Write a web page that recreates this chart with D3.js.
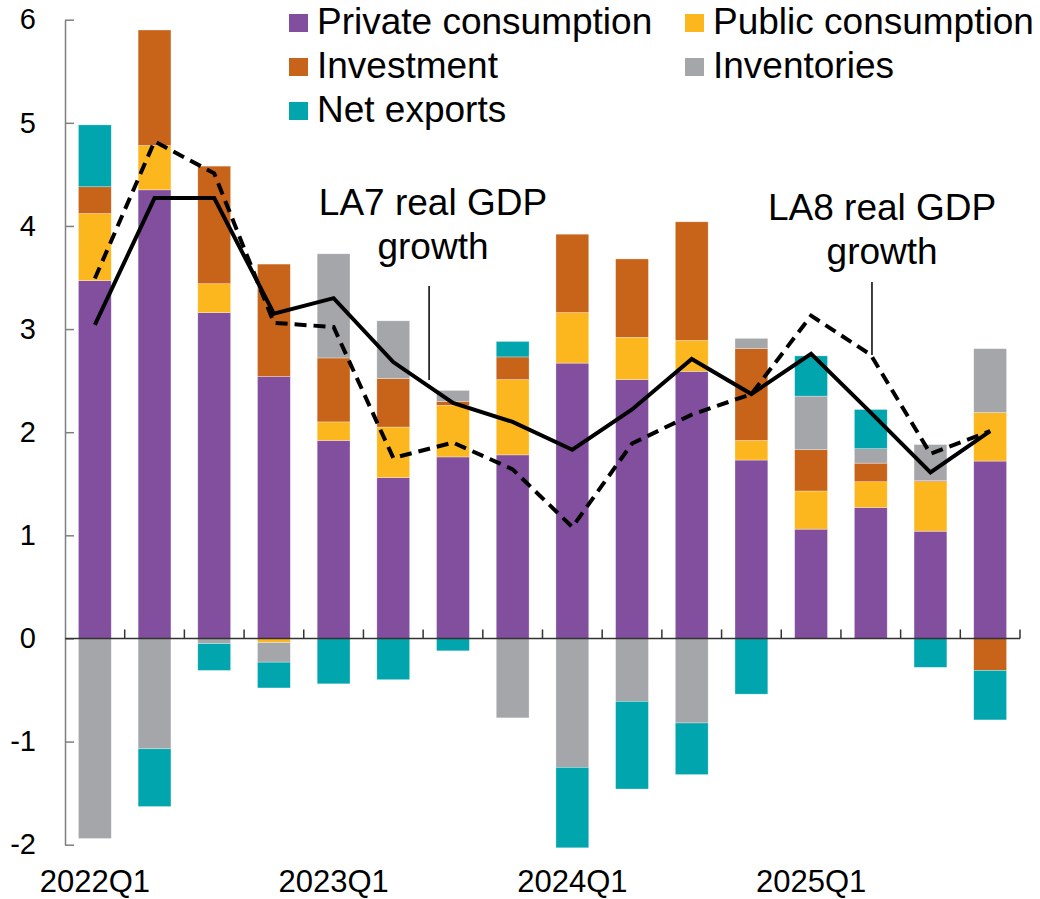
<!DOCTYPE html>
<html>
<head>
<meta charset="utf-8">
<script src="https://cdn.jsdelivr.net/npm/d3@7"></script>
<style>
  body { margin: 0; background: #fff; }
  svg { display: block; font-family: 'Liberation Sans', Arial, sans-serif; }
</style>
</head>
<body>
<div id="chart"></div>
<script>
const quarters = ['2022Q1','2022Q2','2022Q3','2022Q4','2023Q1','2023Q2','2023Q3','2023Q4',
                  '2024Q1','2024Q2','2024Q3','2024Q4','2025Q1','2025Q2','2025Q3','2025Q4']

const privateCons = [3.47, 4.35, 3.16, 2.54, 1.92, 1.56, 1.76, 1.78, 2.67, 2.51, 2.59, 1.73, 1.06, 1.27, 1.04, 1.72]
const publicCons  = [0.65, 0.43, 0.28, -0.04, 0.18, 0.49, 0.50, 0.73, 0.49, 0.41, 0.30, 0.19, 0.37, 0.25, 0.48, 0.47]
const investment  = [0.26, 1.12, 1.14, 1.09, 0.62, 0.47, 0.04, 0.22, 0.76, 0.76, 1.15, 0.89, 0.40, 0.18, 0.01, -0.31]
const inventories = [-1.94, -1.07, -0.05, -0.19, 1.01, 0.56, 0.105, -0.77, -1.25, -0.61, -0.82, 0.10, 0.52, 0.14, 0.35, 0.62]
const netExports  = [0.60, -0.56, -0.26, -0.25, -0.44, -0.40, -0.12, 0.15, -0.78, -0.85, -0.50, -0.54, 0.39, 0.38, -0.28, -0.48]

const la7 = [3.04, 4.27, 4.27, 3.15, 3.30, 2.68, 2.285, 2.10, 1.83, 2.22, 2.71, 2.37, 2.76, 2.19, 1.61, 2.01]
const la8 = [3.49, 4.82, 4.51, 3.06, 3.02, 1.75, 1.90, 1.64, 1.08, 1.89, 2.17, 2.37, 3.13, 2.75, 1.79, 2.01]

const seriesNames = ['Private consumption', 'Public consumption', 'Investment', 'Inventories', 'Net exports']
const seriesColors = ['#824f9e', '#fdb71e', '#c8631a', '#a5a6aa', '#00a5ad']
const xLabels = ['2022Q1', '2023Q1', '2024Q1', '2025Q1']
const yTicks = [-2, -1, 0, 1, 2, 3, 4, 5, 6]

const width = 1040,
      height = 899

const svg = d3.select('#chart')
  .append('svg')
  .attr('width', width)
  .attr('height', height)

const x = d3.scaleBand()
  .domain(quarters)
  .range([65, 1020])
  .paddingInner(0.45)
  .paddingOuter(0.225)

const y = d3.scaleLinear()
  .domain([-2, 6])
  .range([844.7, 19.7])

const cx = function(i) { return x(quarters[i]) + x.bandwidth() / 2 }

// table for the stack
const table = quarters.map(function(q, i) {
  return { q: q, s0: privateCons[i], s1: publicCons[i], s2: investment[i], s3: inventories[i], s4: netExports[i] }
})
const keys = ['s0', 's1', 's2', 's3', 's4']
const stacked = d3.stack().keys(keys).offset(d3.stackOffsetDiverging)(table)

svg.append('g')
  .selectAll('g')
  .data(stacked)
  .enter().append('g')
  .attr('fill', function(d, i) { return seriesColors[i] })
  .selectAll('rect')
  .data(function(d) { return d })
  .enter().append('rect')
  .attr('x', function(d) { return x(d.data.q) })
  .attr('width', x.bandwidth())
  .attr('y', function(d) { return y(Math.max(d[0], d[1])) })
  .attr('height', function(d) { return Math.abs(y(d[0]) - y(d[1])) })
  .attr('stroke', '#fff')
  .attr('stroke-opacity', 0.5)
  .attr('stroke-width', 0.6)

// y axis
const yAxis = svg.append('g')
  .attr('transform', 'translate(65,0)')
  .call(d3.axisLeft(y).tickValues(yTicks).tickFormat(function(d) { return String(d) })
    .tickSize(-9).tickSizeOuter(0).tickPadding(29))
yAxis.select('.domain').attr('stroke', '#7f7f7f').attr('stroke-width', 1.5)
yAxis.selectAll('.tick line').attr('stroke', '#7f7f7f').attr('stroke-width', 1.5)
yAxis.selectAll('.tick text')
  .attr('font-size', 29)
  .attr('fill', '#000')
  .attr('font-family', "'Liberation Sans', Arial, sans-serif")

// zero line with ticks between quarters
const step = x.step()
const zero = svg.append('g')
zero.append('line')
  .attr('x1', 65).attr('x2', 1020)
  .attr('y1', y(0)).attr('y2', y(0))
  .attr('stroke', '#333').attr('stroke-width', 1.5)
zero.selectAll('.qt')
  .data(d3.range(1, quarters.length + 1))
  .enter().append('line')
  .attr('class', 'qt')
  .attr('x1', function(i) { return 65 + step * i })
  .attr('x2', function(i) { return 65 + step * i })
  .attr('y1', y(0)).attr('y2', y(0) - 9)
  .attr('stroke', '#333').attr('stroke-width', 1.5)

// x labels
svg.append('g')
  .selectAll('text')
  .data(xLabels)
  .enter().append('text')
  .attr('x', function(d) { return x(d) + x.bandwidth() / 2 })
  .attr('y', 892)
  .attr('text-anchor', 'middle')
  .attr('font-size', 31)
  .text(function(d) { return d })

// GDP lines
const line = d3.line()
  .x(function(d, i) { return cx(i) })
  .y(function(d) { return y(d) })

svg.append('path')
  .datum(la7)
  .attr('d', line)
  .attr('fill', 'none')
  .attr('stroke', '#000')
  .attr('stroke-width', 4)

svg.append('path')
  .datum(la8)
  .attr('d', line)
  .attr('fill', 'none')
  .attr('stroke', '#000')
  .attr('stroke-width', 4)
  .attr('stroke-dasharray', '12,7')

// annotations
const xi = d3.scaleLinear().domain([0, quarters.length - 1]).range([cx(0), cx(quarters.length - 1)])
const notes = [
  { l1: 'LA7 real GDP', l2: 'growth', tx: 5.665, ty: 215, px: 5.60, y0: 286, y1: 380 },
  { l1: 'LA8 real GDP', l2: 'growth', tx: 13.19, ty: 220, px: 13.02, y0: 282, y1: 355 }
]
notes.forEach(function(n) {
  const g = svg.append('g')
  g.append('text')
    .attr('x', xi(n.tx)).attr('y', n.ty)
    .attr('text-anchor', 'middle').attr('font-size', 37)
    .text(n.l1)
  g.append('text')
    .attr('x', xi(n.tx)).attr('y', n.ty + 44)
    .attr('text-anchor', 'middle').attr('font-size', 37)
    .text(n.l2)
  g.append('line')
    .attr('x1', xi(n.px)).attr('x2', xi(n.px))
    .attr('y1', n.y0).attr('y2', n.y1)
    .attr('stroke', '#000').attr('stroke-width', 1.5)
})

// legend
const legendPos = [[289, 14], [685, 14], [289, 58], [685, 58], [289, 102]]
const legend = svg.append('g')
  .selectAll('g')
  .data(seriesNames)
  .enter().append('g')
  .attr('transform', function(d, i) { return 'translate(' + legendPos[i][0] + ',' + legendPos[i][1] + ')' })
legend.append('rect')
  .attr('width', 19).attr('height', 18)
  .attr('fill', function(d, i) { return seriesColors[i] })
legend.append('text')
  .attr('x', 28).attr('y', 20)
  .attr('font-size', 37)
  .text(function(d) { return d })
</script>
</body>
</html>
